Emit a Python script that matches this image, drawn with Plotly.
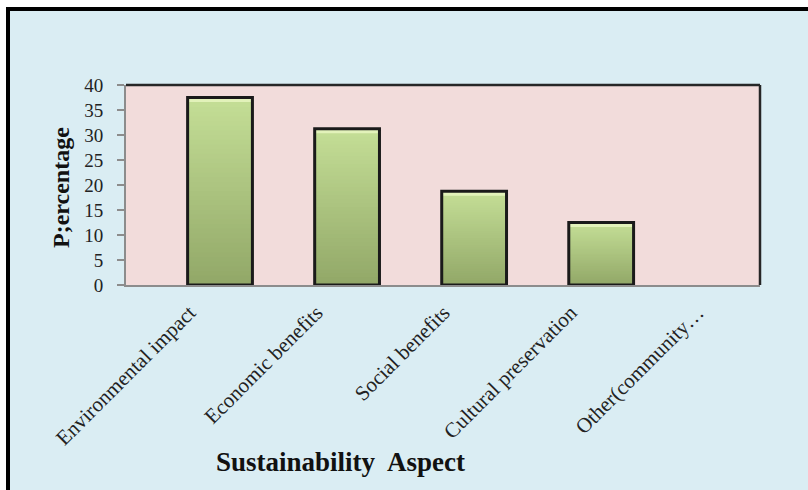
import plotly.graph_objects as go

# Survey results: share of respondents naming each sustainability aspect
aspects = ["Environmental impact", "Economic benefits", "Social benefits",
           "Cultural preservation", "Other(community\u2026"]
percentages = [37.5, 31.25, 18.75, 12.5, 0]

positions = list(range(len(aspects)))
label_shift = -0.24          # rotated labels sit slightly left of each bar
tick_positions = [p + label_shift for p in positions]

BAR_WIDTH = 0.51
N_STEPS = 40
TOP_RGB = (196, 222, 150)
BOTTOM_RGB = (146, 168, 104)
SERIF = "Liberation Serif, Times New Roman, serif"


def blend(t):
    r, g, b = (round(BOTTOM_RGB[i] + (TOP_RGB[i] - BOTTOM_RGB[i]) * t) for i in range(3))
    return f"rgb({r},{g},{b})"


fig = go.Figure()

# Vertical gradient: each layer runs from its start height to the bar top,
# so later (lighter) layers cover the upper part of earlier ones without seams
for k in range(N_STEPS):
    fig.add_trace(go.Bar(
        x=positions,
        y=[v * (1 - k / N_STEPS) for v in percentages],
        base=[v * k / N_STEPS for v in percentages],
        width=BAR_WIDTH,
        marker=dict(color=blend(k / (N_STEPS - 1)), line=dict(width=0)),
        hoverinfo="skip",
        showlegend=False,
    ))

# Pale bevel along the top of each bar
cap = [min(v, 0.9) for v in percentages]
fig.add_trace(go.Bar(
    x=positions,
    y=cap,
    base=[v - c for v, c in zip(percentages, cap)],
    width=BAR_WIDTH,
    marker=dict(color="rgb(226,242,186)", line=dict(width=0)),
    hoverinfo="skip",
    showlegend=False,
))

# Dark outline drawn over the gradient (empty categories get no outline)
fig.add_trace(go.Bar(
    x=positions,
    y=[v if v > 0 else None for v in percentages],
    width=BAR_WIDTH,
    marker=dict(color="rgba(0,0,0,0)", line=dict(color="#1a1a1a", width=3)),
    name="Percentage",
    showlegend=False,
))

fig.update_layout(
    width=808,
    height=490,
    barmode="overlay",
    margin=dict(l=126, r=48, t=85, b=205),
    paper_bgcolor="#daedf3",
    plot_bgcolor="#f2dcdb",
    font=dict(family=SERIF, color="#111111"),
    xaxis=dict(
        range=[-0.74, 4.25],
        tickmode="array",
        tickvals=tick_positions,
        ticktext=aspects,
        tickangle=-45,
        ticks="",
        ticklabelstandoff=5,
        tickfont=dict(family=SERIF, size=21, color="#222222"),
        showgrid=False,
        zeroline=False,
        showline=True,
        linecolor="#8c8c8c",
        linewidth=2,
    ),
    yaxis=dict(
        range=[0, 40],
        dtick=5,
        ticks="outside",
        ticklen=7,
        tickwidth=1.5,
        tickcolor="#8c8c8c",
        ticklabelstandoff=10,
        tickfont=dict(family=SERIF, size=19, color="#222222"),
        showgrid=False,
        zeroline=False,
        showline=True,
        linecolor="#8c8c8c",
        linewidth=2,
    ),
    annotations=[
        dict(text="<b>Sustainability  Aspect</b>", xref="paper", yref="paper",
             x=(340 - 126) / 634, y=(285 - 462) / 200, xanchor="center", yanchor="middle",
             showarrow=False, font=dict(family=SERIF, size=27, color="#111111")),
        dict(text="<b>P;ercentage</b>", xref="paper", yref="paper",
             x=(61 - 126) / 634, y=(285 - 188) / 200, xanchor="center", yanchor="middle",
             textangle=-90, showarrow=False,
             font=dict(family=SERIF, size=24, color="#111111")),
    ],
    shapes=[
        # dark top and right edges of the plotting area
        dict(type="line", xref="paper", yref="paper", x0=0, x1=1, y0=1, y1=1,
             line=dict(color="#262626", width=2.5)),
        dict(type="line", xref="paper", yref="paper", x0=1, x1=1, y0=0, y1=1,
             line=dict(color="#262626", width=2.5)),
        # white surround outside the frame
        dict(type="rect", xref="paper", yref="paper", layer="below",
             x0=(0 - 126) / 634, x1=(808 - 126) / 634,
             y0=(285 - 7) / 200, y1=(285 - 0) / 200,
             fillcolor="white", line=dict(width=0)),
        dict(type="rect", xref="paper", yref="paper", layer="below",
             x0=(0 - 126) / 634, x1=(6 - 126) / 634,
             y0=(285 - 490) / 200, y1=(285 - 0) / 200,
             fillcolor="white", line=dict(width=0)),
        # heavy black frame on top and left
        dict(type="line", xref="paper", yref="paper",
             x0=(6 - 126) / 634, x1=(808 - 126) / 634,
             y0=(285 - 9) / 200, y1=(285 - 9) / 200,
             line=dict(color="black", width=4)),
        dict(type="line", xref="paper", yref="paper",
             x0=(8 - 126) / 634, x1=(8 - 126) / 634,
             y0=(285 - 7) / 200, y1=(285 - 490) / 200,
             line=dict(color="black", width=4)),
    ],
)

fig.write_html("out.html")
